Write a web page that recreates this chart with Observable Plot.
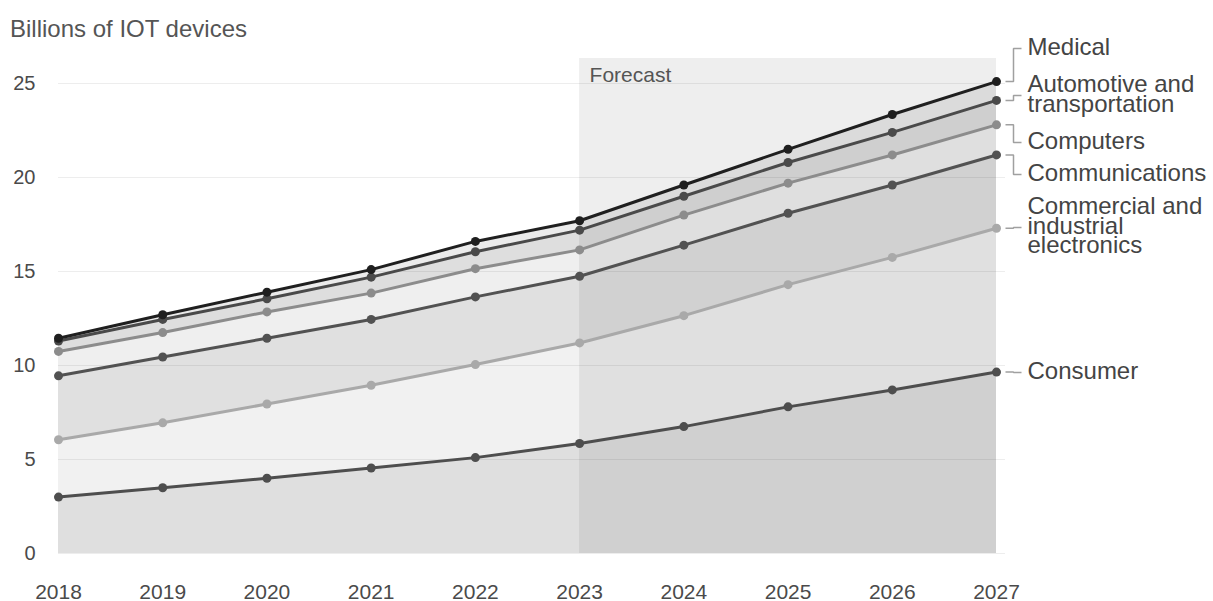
<!DOCTYPE html>
<html>
<head>
<meta charset="utf-8">
<script src="https://cdn.jsdelivr.net/npm/d3@7"></script>
<script src="https://cdn.jsdelivr.net/npm/@observablehq/plot@0.6"></script>
<style>
  html, body { margin: 0; padding: 0; background: #fff; overflow: hidden; }
  #title {
    height: 46px; box-sizing: border-box; padding: 17px 0 0 10px;
    font: 24px/24px "Liberation Sans", Arial, Helvetica, sans-serif; color: #555;
  }
  #chart svg { display: block; }
</style>
</head>
<body>
<div id="title">Billions of IOT devices</div>
<div id="chart"></div>
<script>
// Years on the x axis
const years = [2018, 2019, 2020, 2021, 2022, 2023, 2024, 2025, 2026, 2027];
const forecastStart = 2023;

// Cumulative totals (billions of devices), bottom band first
const consumer       = [3.0, 3.5, 4.0, 4.55, 5.1, 5.85, 6.75, 7.8, 8.7, 9.65];
const commercial     = [6.05, 6.95, 7.95, 8.95, 10.05, 11.2, 12.65, 14.3, 15.75, 17.3];
const communications = [9.45, 10.45, 11.45, 12.45, 13.65, 14.75, 16.4, 18.1, 19.6, 21.2];
const computers      = [10.75, 11.75, 12.85, 13.85, 15.15, 16.15, 18.0, 19.7, 21.2, 22.8];
const automotive     = [11.3, 12.45, 13.55, 14.7, 16.05, 17.2, 19.0, 20.8, 22.4, 24.1];
const medical        = [11.45, 12.7, 13.9, 15.1, 16.6, 17.7, 19.6, 21.5, 23.35, 25.1];

// Series names as printed beside the chart
const names = [
  "Consumer",
  "Commercial and\nindustrial\nelectronics",
  "Communications",
  "Computers",
  "Automotive and\ntransportation",
  "Medical"
];
const yTicks = [0, 5, 10, 15, 20, 25];

// Styling
const lineColors = ["#4e4e4e", "#a9a9a9", "#525252", "#8c8c8c", "#4a4a4a", "#1f1f1f"];
const bandFills  = ["#dfdfdf", "#f1f1f1", "#e0e0e0", "#efefef", "#dedede", "#ebebeb"];
// Vertical placement of each name (in y units), spread so they do not collide
const labelY = [9.63, 17.34, 20.16, 21.86, 24.36, 26.86];
const forecastTop = 26.33;

const stack = [consumer, commercial, communications, computers, automotive, medical];
const zeros = years.map(() => 0);

const W = 1213, H = 555;
const mL = 58, mR = 217;
const pxPerYear = (W - mL - mR) / (years[years.length - 1] - years[0]);
const last = years[years.length - 1];
const px = p => p / pxPerYear; // pixel offset expressed in years

const font = '"Liberation Sans", Arial, Helvetica, sans-serif';

const marks = [];

// Stacked bands
stack.forEach((vals, i) => {
  const lower = i === 0 ? zeros : stack[i - 1];
  marks.push(Plot.areaY(years, {x: years, y1: lower, y2: vals, fill: bandFills[i], curve: "linear"}));
});

// Forecast shading over the later years
marks.push(Plot.rect([0], {x1: forecastStart, x2: last, y1: 0, y2: forecastTop, fill: "#000", fillOpacity: 0.065}));

// Horizontal gridlines
marks.push(Plot.ruleY(yTicks, {x1: years[0], x2: last + px(9), stroke: "#000", strokeOpacity: 0.07, strokeWidth: 1}));

marks.push(Plot.text(["Forecast"], {
  x: forecastStart, y: forecastTop, dx: 10, dy: 17,
  textAnchor: "start", lineAnchor: "middle", fontSize: 21, fill: "#555"
}));

// Lines and points
stack.forEach((vals, i) => {
  marks.push(Plot.line(years, {x: years, y: vals, stroke: lineColors[i], strokeWidth: 3, curve: "linear"}));
  marks.push(Plot.dot(years, {x: years, y: vals, r: 4.5, fill: lineColors[i], stroke: "none"}));
});

// Leader lines and series names
const ends = stack.map((vals, i) => ({value: vals[vals.length - 1], ly: labelY[i], name: names[i]}));
marks.push(Plot.link(ends, {
  x1: last + px(9), y1: "value", x2: last + px(25), y2: "ly",
  curve: "step", stroke: "#a0a0a0", strokeWidth: 1.5
}));
marks.push(Plot.text(ends, {
  x: last + px(31), y: "ly", text: "name",
  textAnchor: "start", lineAnchor: "middle", lineHeight: 0.82,
  fontSize: 24, fill: "#444"
}));

// Axes
marks.push(Plot.axisX({ticks: years, tickFormat: d => String(d), tickSize: 0, tickPadding: 31, fontSize: 21, fill: "#4a4a4a", label: null}));
marks.push(Plot.axisY({ticks: yTicks, tickSize: 0, tickPadding: 23, fontSize: 20, fill: "#4a4a4a", label: null}));

const chart = Plot.plot({
  width: W, height: H,
  marginLeft: mL, marginRight: mR, marginTop: 37, marginBottom: 48,
  x: {domain: [years[0], last], label: null},
  y: {domain: [0, 25], label: null},
  style: {fontFamily: font, background: "#fff", overflow: "visible"},
  marks
});
document.getElementById("chart").appendChild(chart);
</script>
</body>
</html>
